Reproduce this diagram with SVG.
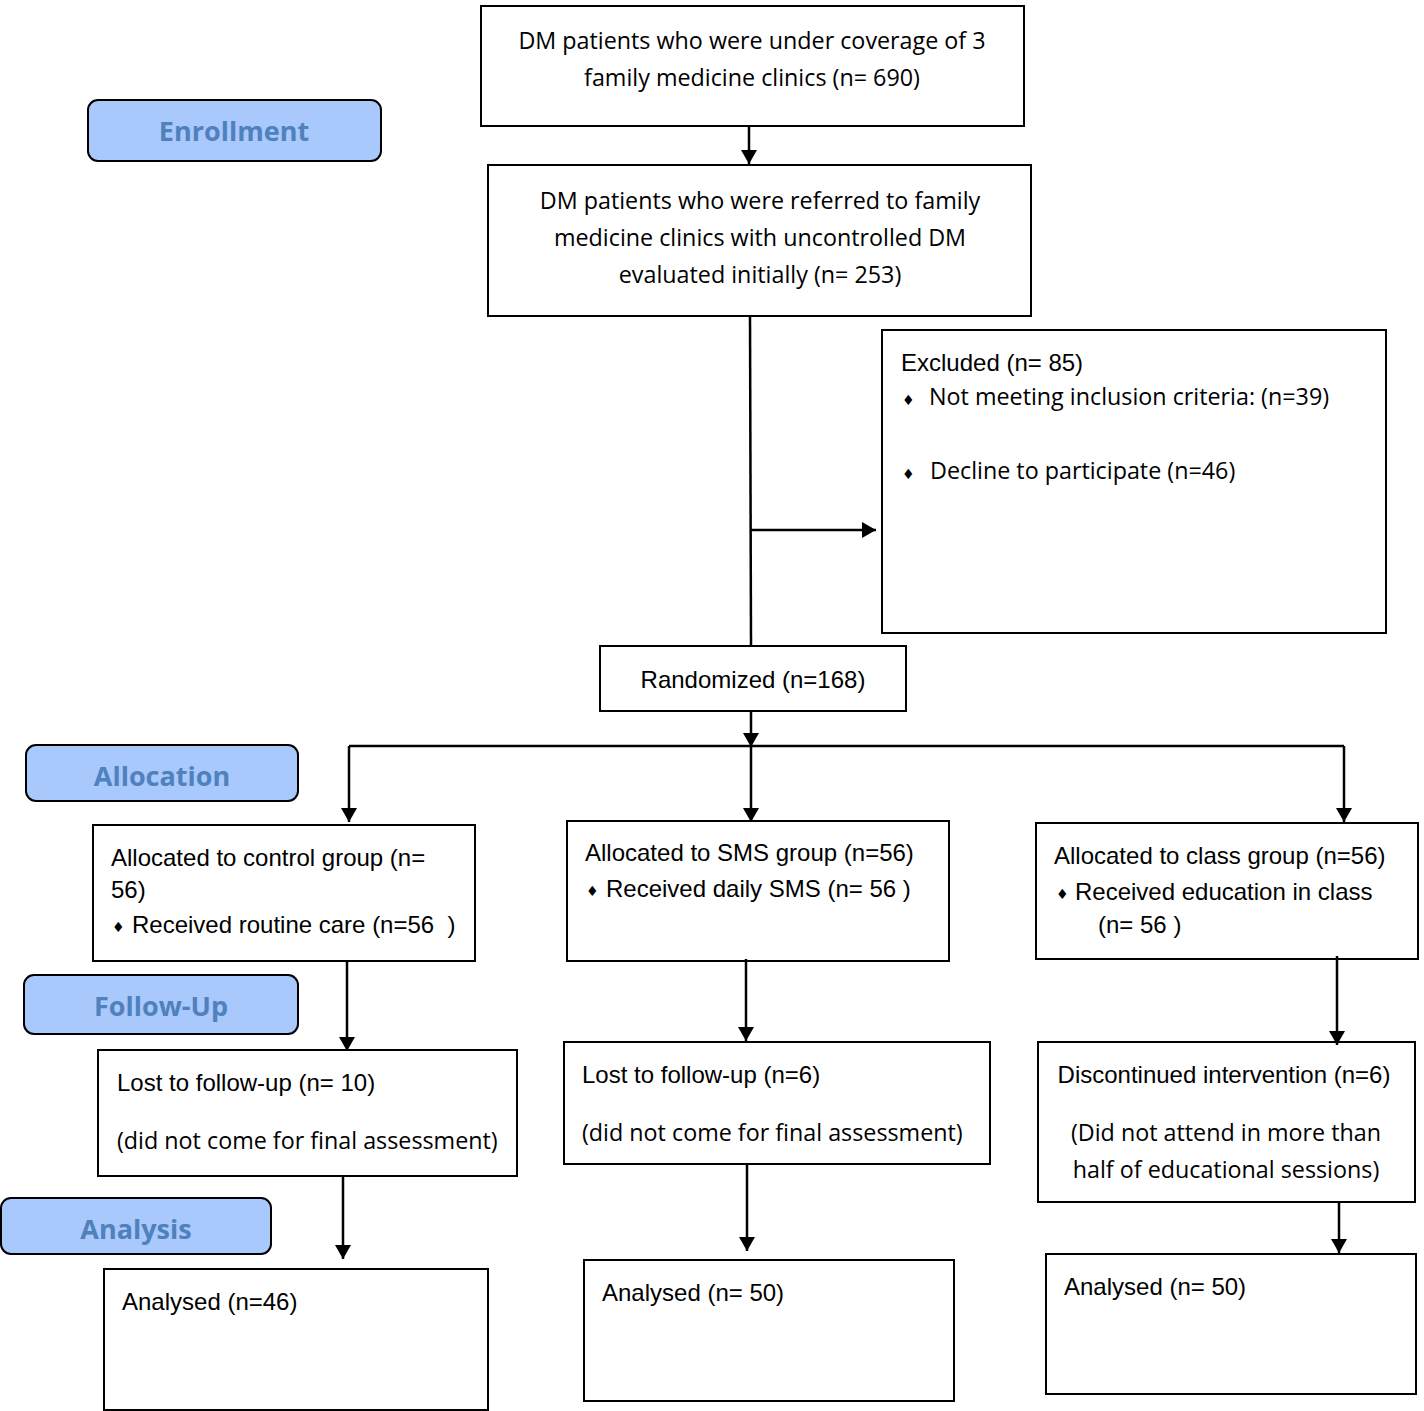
<svg xmlns="http://www.w3.org/2000/svg" width="1424" height="1411" viewBox="0 0 1424 1411">
<defs>
<marker id="ah" markerUnits="userSpaceOnUse" markerWidth="14" markerHeight="16" viewBox="0 0 14 16" refX="14" refY="8" orient="auto">
<path d="M0,0 L14,8 L0,16 Z" fill="#000"/>
</marker>
<style>
.box{fill:#fff;stroke:#000;stroke-width:2}
.lab{fill:#a9c8fb;stroke:#000;stroke-width:2}
.lt{font-family:"Open Sans","Liberation Sans",sans-serif;font-weight:bold;font-size:27px;fill:#4f81bd;text-anchor:middle}
.a{font-family:"Liberation Sans",Arial,sans-serif;font-size:24px;fill:#000}
.c{font-family:"Open Sans","Liberation Sans",sans-serif;font-size:23.3px;fill:#000}
.m{text-anchor:middle}
.b{font-family:"DejaVu Sans",sans-serif;font-size:14px;fill:#000}
.ln{fill:none;stroke:#000;stroke-width:2.5}
</style>
</defs>

<g id="label-enrollment"><rect class="lab" x="88" y="100" width="293" height="61" rx="10"/><text class="lt" x="234" y="141">Enrollment</text></g>
<g id="label-allocation"><rect class="lab" x="26" y="745" width="272" height="56" rx="10"/><text class="lt" x="162" y="786">Allocation</text></g>
<g id="label-followup"><rect class="lab" x="24" y="975" width="274" height="59" rx="10"/><text class="lt" x="161" y="1016">Follow-Up</text></g>
<g id="label-analysis"><rect class="lab" x="1" y="1198" width="270" height="56" rx="10"/><text class="lt" x="136" y="1239">Analysis</text></g>

<g id="n-coverage"><rect class="box" x="481" y="6" width="543" height="120"/>
<text class="c m" x="752" y="49">DM patients who were under coverage of 3</text>
<text class="c m" x="752" y="86">family medicine clinics (n= 690)</text></g>

<g id="n-referred"><rect class="box" x="488" y="165" width="543" height="151"/>
<text class="c m" x="760" y="209">DM patients who were referred to family</text>
<text class="c m" x="760" y="246">medicine clinics with uncontrolled DM</text>
<text class="c m" x="760" y="283">evaluated initially (n= 253)</text></g>

<g id="n-excluded"><rect class="box" x="882" y="330" width="504" height="303"/>
<text class="a" x="901" y="371">Excluded (n= 85)</text>
<text class="b" x="902" y="405">♦</text>
<text class="c" x="929" y="405">Not meeting inclusion criteria: (n=39)</text>
<text class="b" x="902" y="479">♦</text>
<text class="c" x="930" y="479">Decline to participate (n=46)</text></g>

<g id="n-randomized"><rect class="box" x="600" y="646" width="306" height="65"/>
<text class="a m" x="753" y="688">Randomized (n=168)</text></g>

<g id="n-control"><rect class="box" x="93" y="825" width="382" height="136"/>
<text class="a" x="111" y="866">Allocated to control group (n=</text>
<text class="a" x="111" y="898">56)</text>
<text class="b" x="112" y="932">♦</text>
<text class="a" x="132" y="933" xml:space="preserve">Received routine care (n=56  )</text></g>

<g id="n-sms"><rect class="box" x="567" y="821" width="382" height="140"/>
<text class="a" x="585" y="861">Allocated to SMS group (n=56)</text>
<text class="b" x="586" y="896">♦</text>
<text class="a" x="606" y="897">Received daily SMS (n= 56 )</text></g>

<g id="n-class"><rect class="box" x="1036" y="823" width="382" height="136"/>
<text class="a" x="1054" y="864">Allocated to class group (n=56)</text>
<text class="b" x="1056" y="899">♦</text>
<text class="a" x="1075" y="900">Received education in class</text>
<text class="a" x="1098" y="933">(n= 56 )</text></g>

<g id="n-lost-control"><rect class="box" x="98" y="1050" width="419" height="126"/>
<text class="a" x="117" y="1091">Lost to follow-up (n= 10)</text>
<text class="c" x="117" y="1149">(did not come for final assessment)</text></g>

<g id="n-lost-sms"><rect class="box" x="564" y="1042" width="426" height="122"/>
<text class="a" x="582" y="1083">Lost to follow-up (n=6)</text>
<text class="c" x="582" y="1141">(did not come for final assessment)</text></g>

<g id="n-discontinued"><rect class="box" x="1038" y="1042" width="377" height="160"/>
<text class="a m" x="1224" y="1083">Discontinued intervention (n=6)</text>
<text class="c m" x="1226" y="1141">(Did not attend in more than</text>
<text class="c m" x="1226" y="1178">half of educational sessions)</text></g>

<g id="n-analysed-control"><rect class="box" x="104" y="1269" width="384" height="141"/>
<text class="a" x="122" y="1310">Analysed (n=46)</text></g>

<g id="n-analysed-sms"><rect class="box" x="584" y="1260" width="370" height="141"/>
<text class="a" x="602" y="1301">Analysed (n= 50)</text></g>

<g id="n-analysed-class"><rect class="box" x="1046" y="1254" width="370" height="140"/>
<text class="a" x="1064" y="1295">Analysed (n= 50)</text></g>

<g id="connectors">
<line class="ln" x1="749" y1="126" x2="749" y2="164" marker-end="url(#ah)"/>
<line class="ln" x1="750" y1="316" x2="751" y2="646"/>
<line class="ln" x1="751" y1="530" x2="876" y2="530" marker-end="url(#ah)"/>
<line class="ln" x1="751" y1="711" x2="751" y2="747" marker-end="url(#ah)"/>
<polyline class="ln" points="349,746 1344,746"/>
<line class="ln" x1="349" y1="746" x2="349" y2="822" marker-end="url(#ah)"/>
<line class="ln" x1="751" y1="746" x2="751" y2="822" marker-end="url(#ah)"/>
<line class="ln" x1="1344" y1="746" x2="1344" y2="822" marker-end="url(#ah)"/>
<line class="ln" x1="347" y1="961" x2="347" y2="1051" marker-end="url(#ah)"/>
<line class="ln" x1="746" y1="959" x2="746" y2="1041" marker-end="url(#ah)"/>
<line class="ln" x1="1337" y1="956" x2="1337" y2="1045" marker-end="url(#ah)"/>
<line class="ln" x1="343" y1="1176" x2="343" y2="1259" marker-end="url(#ah)"/>
<line class="ln" x1="747" y1="1164" x2="747" y2="1251" marker-end="url(#ah)"/>
<line class="ln" x1="1339" y1="1202" x2="1339" y2="1253" marker-end="url(#ah)"/>
</g>
</svg>
